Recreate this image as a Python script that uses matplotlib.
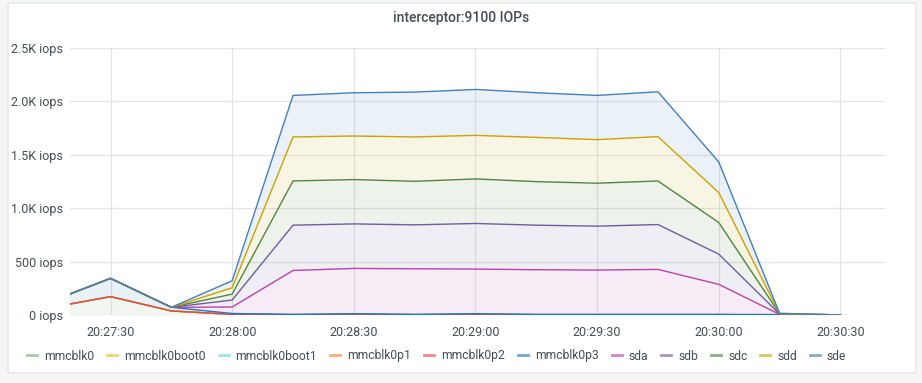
import numpy as np
import pandas as pd
import matplotlib
matplotlib.use("Agg")
import matplotlib.pyplot as plt
import matplotlib.dates as mdates
from matplotlib.patches import FancyBboxPatch
from matplotlib.lines import Line2D

plt.rcParams['font.family'] = ['Roboto', 'DejaVu Sans']

times = pd.date_range("2021-01-01 20:27:15", "2021-01-01 20:30:30", freq="15s")

series_names = ["mmcblk0", "mmcblk0boot0", "mmcblk0boot1", "mmcblk0p1", "mmcblk0p2",
                "mmcblk0p3", "sda", "sdb", "sdc", "sdd", "sde"]
colors = ["#7EB26D", "#EAB839", "#6ED0E0", "#EF843C", "#E24D42",
          "#1F78C1", "#BA43A9", "#705DA0", "#508642", "#CCA300", "#447EBC"]

#            27:15 27:30 27:45 28:00 28:15 28:30 28:45 29:00 29:15 29:30 29:45 30:00 30:15 30:30
mmcblk0      = [68, 172, 38, 6, 3, 5, 3, 5, 3, 3, 3, 3, 2, 0]
mmcblk0boot0 = [0, 0, 0, 0, 0, 0, 0, 0, 0, 0, 0, 0, 0, 0]
mmcblk0boot1 = [0, 0, 0, 0, 0, 0, 0, 0, 0, 0, 0, 0, 0, 0]
mmcblk0p1    = [0, 0, 0, 0, 0, 0, 0, 0, 0, 0, 0, 0, 0, 0]
mmcblk0p2    = [0, 0, 0, 0, 0, 0, 0, 0, 0, 0, 0, 0, 0, 0]
mmcblk0p3    = [56, 171, 34, 8, 3, 7, 3, 7, 3, 3, 3, 3, 2, 1]
sda          = [0, 0, 0, 61, 411, 424, 427, 418, 418, 415, 421, 281, 2, 0]
sdb          = [0, 0, 0, 65, 424, 417, 411, 427, 417, 411, 420, 283, 3, 0]
sdc          = [0, 0, 0, 56, 414, 415, 408, 417, 408, 402, 408, 296, 3, 0]
sdd          = [0, 0, 0, 59, 412, 408, 415, 408, 414, 408, 415, 280, 2, 0]
sde          = [0, 0, 0, 66, 389, 405, 420, 430, 418, 414, 420, 287, 2, 0]

values = [mmcblk0, mmcblk0boot0, mmcblk0boot1, mmcblk0p1, mmcblk0p2,
          mmcblk0p3, sda, sdb, sdc, sdd, sde]

title = "interceptor:9100 IOPs"
yticks = [0, 500, 1000, 1500, 2000, 2500]
ytick_labels = ["0 iops", "500 iops", "1.0K iops", "1.5K iops", "2.0K iops", "2.5K iops"]

W, H = 922, 383
fig = plt.figure(figsize=(W / 100, H / 100), dpi=100)
fig.patch.set_facecolor("#f4f5f5")

panel = FancyBboxPatch((8 / W, 1 - 373 / H), (916 - 8) / W, (373 - 3) / H,
                       boxstyle="round,pad=0,rounding_size=0.004",
                       transform=fig.transFigure, facecolor="white",
                       edgecolor="#dde0e4", linewidth=0.8, zorder=-5)
fig.patches.append(panel)

ax = fig.add_axes([70 / W, 1 - 315 / H, (885 - 70) / W, (315 - 48) / H])
ax.set_facecolor("none")
ax.set_zorder(1)

arr = np.array(values, dtype=float)
cum = np.cumsum(arr, axis=0)
x = mdates.date2num(times.to_pydatetime())
prev = np.zeros(len(x))
for i, (name, c) in enumerate(zip(series_names, colors)):
    ax.fill_between(x, prev, cum[i], color=c, alpha=0.1, linewidth=0, zorder=2)
    prev = cum[i]
for i, (name, c) in enumerate(zip(series_names, colors)):
    ax.plot(x, cum[i], color=c, linewidth=1.0, zorder=3 + i)

ax.set_ylim(0, 2500)
xl0 = mdates.date2num(pd.Timestamp("2021-01-01 20:27:20").to_pydatetime())
xl1 = mdates.date2num(pd.Timestamp("2021-01-01 20:30:41").to_pydatetime())
ax.set_xlim(xl0, xl1)

ax.set_yticks(yticks)
ax.set_yticklabels(ytick_labels)
xt = pd.date_range("2021-01-01 20:27:30", "2021-01-01 20:30:30", freq="30s")
ax.set_xticks(mdates.date2num(xt.to_pydatetime()))
ax.set_xticklabels([t.strftime("%H:%M:%S") for t in xt])

for s in ax.spines.values():
    s.set_visible(False)
ax.tick_params(axis="both", length=0, labelsize=9, colors="#464c54")
ax.tick_params(axis="y", pad=5)
ax.tick_params(axis="x", pad=8)
ax.grid(True, color="#e4e4e4", linewidth=0.9, zorder=0)
ax.set_axisbelow(True)

fig.text(0.5, 1 - 18 / H, title, ha="center", va="center", fontsize=10,
         color="#464c54", fontweight="medium")

handles = [Line2D([0], [0], color=c, linewidth=2.0, alpha=0.65) for c in colors]
leg = fig.legend(handles, series_names, loc="center left",
                 bbox_to_anchor=(27 / W, 1 - 356 / H), ncol=11, frameon=False,
                 fontsize=8.7, handlelength=0.83, handletextpad=0.58,
                 columnspacing=1.07, borderaxespad=0, borderpad=0)
for t in leg.get_texts():
    t.set_color("#464c54")

fig.savefig("out.png", dpi=100, facecolor=fig.get_facecolor())
